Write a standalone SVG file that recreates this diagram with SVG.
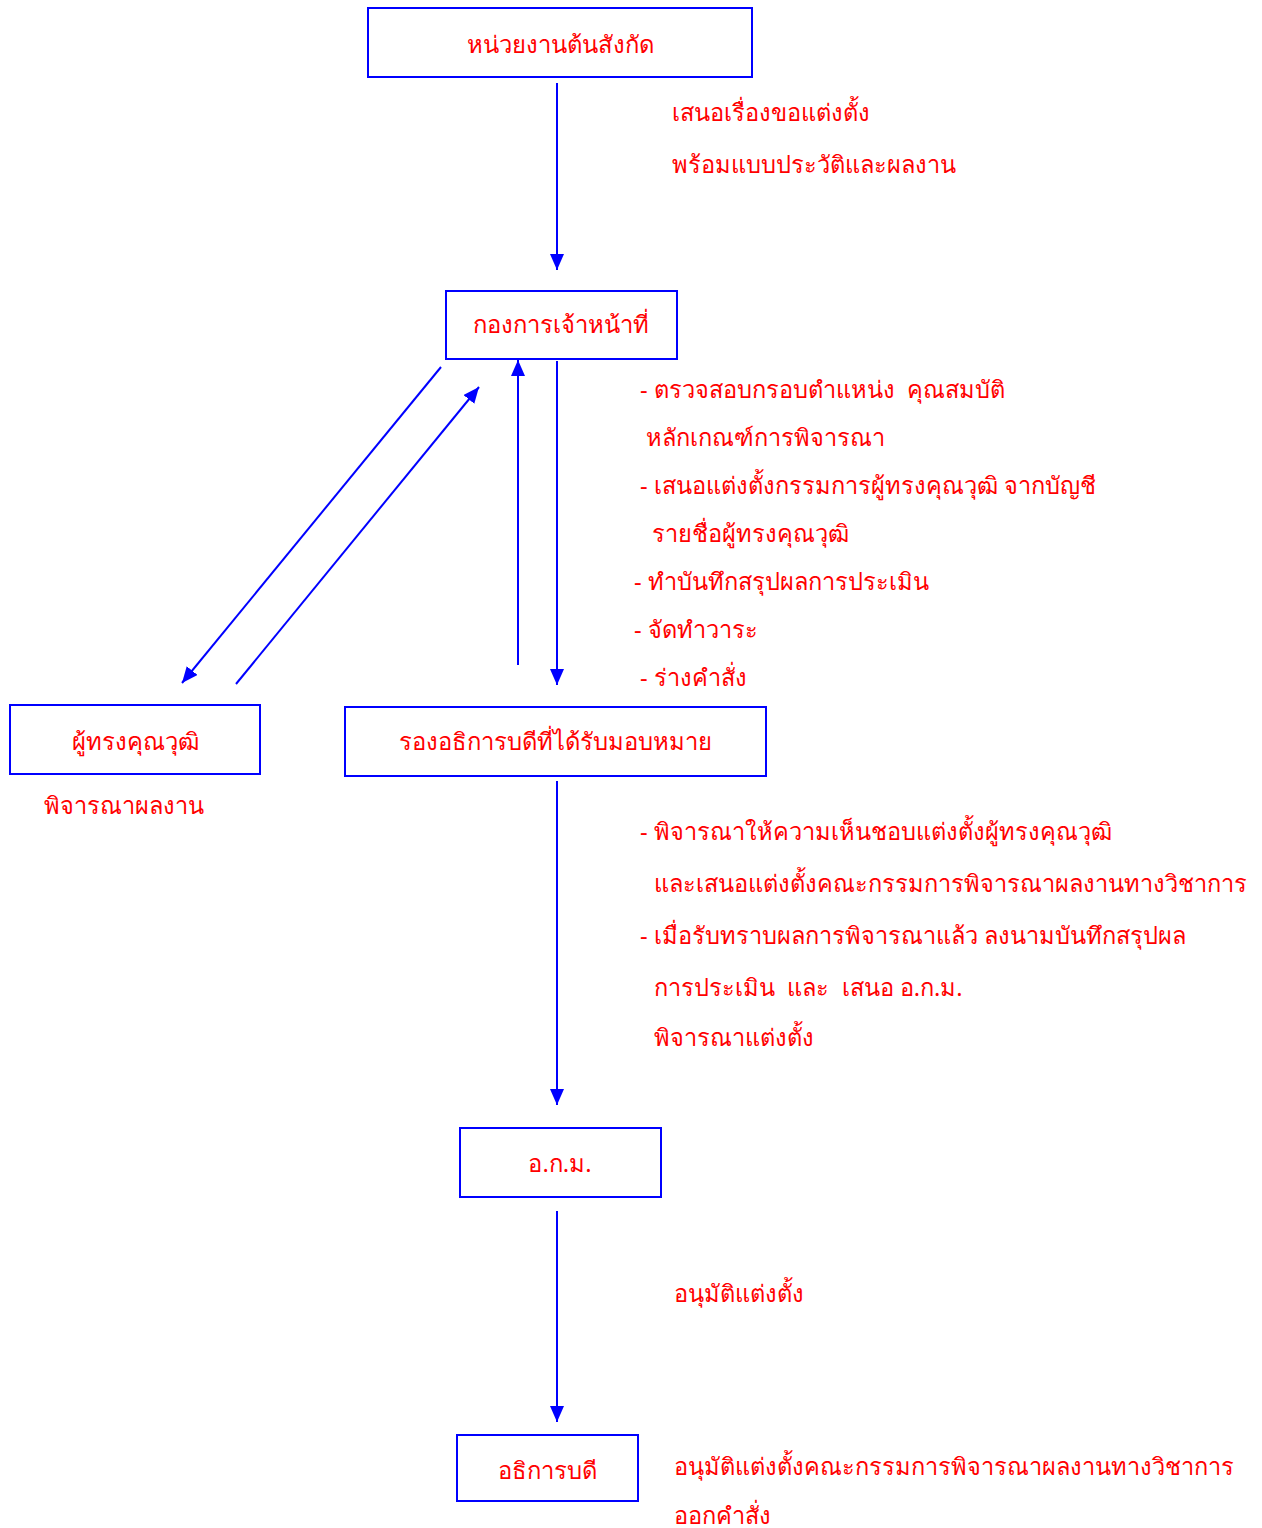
<svg xmlns="http://www.w3.org/2000/svg" width="1262" height="1528" viewBox="0 0 1262 1528">
<defs>
<marker id="ah" markerWidth="16" markerHeight="14" refX="16" refY="7" orient="auto" markerUnits="userSpaceOnUse">
<path d="M0,0 L16,7 L0,14 Z" fill="#0000FF"/>
</marker>
<style>
.box{fill:#fff;stroke:#0000FF;stroke-width:2}
.nt{font-family:"Noto Sans","DejaVu Sans","Noto Sans CJK SC",sans-serif;font-size:23.8px;fill:#FF0000;text-anchor:middle;white-space:pre}
.lb{font-family:"Noto Sans","DejaVu Sans","Noto Sans CJK SC",sans-serif;font-size:23.6px;fill:#FF0000;white-space:pre}
.cn{stroke:#0000FF;stroke-width:2;fill:none;marker-end:url(#ah)}
</style>
</defs>
<rect width="1262" height="1528" fill="#fff"/>
<g id="connectors">
<line class="cn" x1="557" y1="83" x2="557" y2="270"/>
<line class="cn" x1="557" y1="361" x2="557" y2="685"/>
<line class="cn" x1="518" y1="665" x2="518" y2="360"/>
<line class="cn" x1="441" y1="367" x2="182" y2="683"/>
<line class="cn" x1="236" y1="684" x2="479" y2="387"/>
<line class="cn" x1="557" y1="781" x2="557" y2="1105"/>
<line class="cn" x1="557" y1="1211" x2="557" y2="1422"/>
</g>
<g id="n1"><rect class="box" x="368" y="8" width="384" height="69"/><text class="nt" x="560" y="53">หน่วยงานต้นสังกัด</text></g>
<g id="n2"><rect class="box" x="446" y="291" width="231" height="68"/><text class="nt" x="561" y="333">กองการเจ้าหน้าที่</text></g>
<g id="n3"><rect class="box" x="10" y="705" width="250" height="69"/><text class="nt" x="135" y="750">ผู้ทรงคุณวุฒิ</text></g>
<g id="n4"><rect class="box" x="345" y="707" width="421" height="69"/><text class="nt" x="555" y="750">รองอธิการบดีที่ได้รับมอบหมาย</text></g>
<g id="n5"><rect class="box" x="460" y="1128" width="201" height="69"/><text class="nt" x="560" y="1172">อ.ก.ม.</text></g>
<g id="n6"><rect class="box" x="457" y="1435" width="181" height="66"/><text class="nt" x="547" y="1479">อธิการบดี</text></g>
<g id="labels">
<text class="lb" x="672" y="121">เสนอเรื่องขอแต่งตั้ง</text>
<text class="lb" x="672" y="173">พร้อมแบบประวัติและผลงาน</text>
<text class="lb" x="640" y="398">- ตรวจสอบกรอบตำแหน่ง  คุณสมบัติ</text>
<text class="lb" x="646" y="446">หลักเกณฑ์การพิจารณา</text>
<text class="lb" x="640" y="494">- เสนอแต่งตั้งกรรมการผู้ทรงคุณวุฒิ จากบัญชี</text>
<text class="lb" x="652" y="542">รายชื่อผู้ทรงคุณวุฒิ</text>
<text class="lb" x="634" y="590">- ทำบันทึกสรุปผลการประเมิน</text>
<text class="lb" x="634" y="638">- จัดทำวาระ</text>
<text class="lb" x="640" y="686">- ร่างคำสั่ง</text>
<text class="lb" x="44" y="814">พิจารณาผลงาน</text>
<text class="lb" x="640" y="840">- พิจารณาให้ความเห็นชอบแต่งตั้งผู้ทรงคุณวุฒิ</text>
<text class="lb" x="654" y="892">และเสนอแต่งตั้งคณะกรรมการพิจารณาผลงานทางวิชาการ</text>
<text class="lb" x="640" y="944">- เมื่อรับทราบผลการพิจารณาแล้ว ลงนามบันทึกสรุปผล</text>
<text class="lb" x="654" y="996">การประเมิน  และ  เสนอ อ.ก.ม.</text>
<text class="lb" x="654" y="1046">พิจารณาแต่งตั้ง</text>
<text class="lb" x="674" y="1302">อนุมัติแต่งตั้ง</text>
<text class="lb" x="674" y="1475">อนุมัติแต่งตั้งคณะกรรมการพิจารณาผลงานทางวิชาการ</text>
<text class="lb" x="674" y="1524">ออกคำสั่ง</text>
</g>
</svg>
